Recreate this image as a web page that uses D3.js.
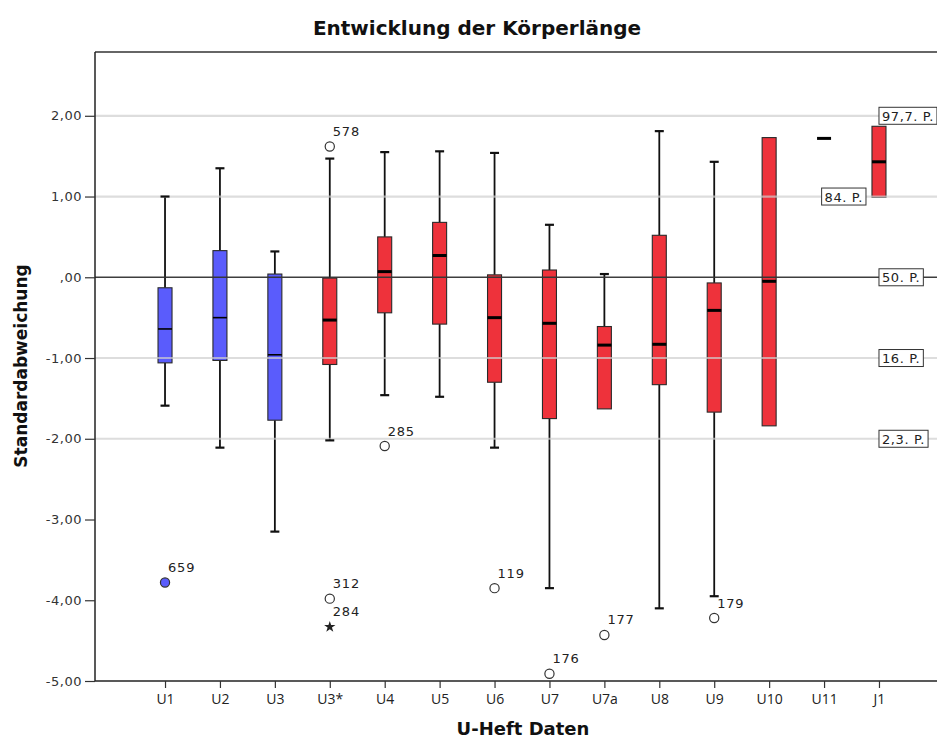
<!DOCTYPE html>
<html>
<head>
<meta charset="utf-8">
<script src="https://cdn.jsdelivr.net/npm/d3@7"></script>
<style>
  html, body { margin: 0; padding: 0; background: #fff; }
  svg { display: block; }
</style>
</head>
<body>
<svg id="chart" width="937" height="740"></svg>
<script>
// Körperlänge (SDS) per U-Untersuchung: Boxplot-Kennwerte
const categories  = ["U1", "U2", "U3", "U3*", "U4", "U5", "U6", "U7", "U7a", "U8", "U9", "U10", "U11", "J1"];
const whiskerHigh = [1.00, 1.35, 0.32, 1.47, 1.55, 1.56, 1.54, 0.65, 0.04, 1.81, 1.43, 1.73, 1.72, 1.87];
const q3          = [-0.13, 0.33, 0.04, -0.01, 0.50, 0.68, 0.03, 0.09, -0.61, 0.52, -0.07, 1.73, 1.72, 1.87];
const medians     = [-0.64, -0.50, -0.96, -0.53, 0.07, 0.27, -0.50, -0.57, -0.84, -0.83, -0.41, -0.05, 1.72, 1.43];
const q1          = [-1.06, -1.03, -1.77, -1.08, -0.44, -0.58, -1.30, -1.75, -1.63, -1.33, -1.67, -1.84, 1.72, 0.99];
const whiskerLow  = [-1.59, -2.11, -3.15, -2.02, -1.46, -1.48, -2.11, -3.85, -1.63, -4.10, -3.95, -1.84, 1.72, 0.99];
const groups      = ["A", "A", "A", "B", "B", "B", "B", "B", "B", "B", "B", "B", "B", "B"];

// Ausreißer (o) und Extremwerte (*) mit Fallnummer
const outlierCats   = ["U1", "U3*", "U3*", "U3*", "U4", "U6", "U7", "U7a", "U9"];
const outlierValues = [-3.78, 1.62, -3.98, -4.33, -2.09, -3.85, -4.91, -4.43, -4.22];
const outlierIds    = ["659", "578", "312", "284", "285", "119", "176", "177", "179"];
const outlierKinds  = ["fill", "o", "o", "*", "o", "o", "o", "o", "o"];

// Perzentil-Referenzlinien
const refValues = [2, 1, 0, -1, -2];
const refLabels = ["97,7. P.", "84. P.", "50. P.", "16. P.", "2,3. P."];

const yTicks = [2, 1, 0, -1, -2, -3, -4, -5];

const W = 937, H = 740;
const plotLeft = 95, plotTop = 52, plotBottom = 681, plotRight = 949;

const svg = d3.select("#chart");

const x = d3.scalePoint().domain(categories).range([plotLeft, plotRight]).padding(1.275);
const y = d3.scaleLinear().domain([-5, 2.79]).range([plotBottom, plotTop]);

const colors = { A: "#5a5cfc", B: "#ee323b" };
const boxW = 14, capW = 9;
const titleFont = "'DejaVu Sans', sans-serif";

const fmt = v => {
  const s = d3.format(".2f")(Math.abs(v)).replace(".", ",");
  const t = v === 0 ? s.replace(/^0/, "") : s;
  return (v < 0 ? "-" : "") + t;
};

// Titel
svg.append("text")
  .attr("x", 477).attr("y", 35)
  .attr("text-anchor", "middle")
  .attr("font-family", titleFont)
  .attr("font-weight", 700)
  .attr("font-size", 20)
  .attr("fill", "#111")
  .text("Entwicklung der Körperlänge");

// Achsentitel
svg.append("text")
  .attr("x", 523).attr("y", 735)
  .attr("text-anchor", "middle")
  .attr("font-family", titleFont)
  .attr("font-weight", 700)
  .attr("font-size", 18)
  .attr("fill", "#111")
  .text("U-Heft Daten");

svg.append("text")
  .attr("transform", "translate(27,366) rotate(-90)")
  .attr("text-anchor", "middle")
  .attr("font-family", titleFont)
  .attr("font-weight", 700)
  .attr("font-size", 17)
  .attr("fill", "#111")
  .text("Standardabweichung");

const stats = categories.map((c, i) => ({
  c, lo: whiskerLow[i], q1: q1[i], med: medians[i], q3: q3[i], hi: whiskerHigh[i], g: groups[i]
}));

// Ebenen: Boxen, Referenzlinien, Whisker-Enden, Ausreißer
const boxLayer = svg.append("g");
const refLayer = svg.append("g");
const capLayer = svg.append("g");
const outLayer = svg.append("g");

const boxes = boxLayer.selectAll("g.box")
  .data(stats)
  .join("g").attr("class", "box")
  .attr("transform", d => `translate(${x(d.c)},0)`);

// Whisker-Linien
boxes.filter(d => d.hi > d.q3).append("line")
  .attr("x1", 0).attr("x2", 0)
  .attr("y1", d => y(d.hi)).attr("y2", d => y(d.q3))
  .attr("stroke", "#111").attr("stroke-width", 1.8);
boxes.filter(d => d.lo < d.q1).append("line")
  .attr("x1", 0).attr("x2", 0)
  .attr("y1", d => y(d.q1)).attr("y2", d => y(d.lo))
  .attr("stroke", "#111").attr("stroke-width", 1.8);

// Boxen
boxes.filter(d => d.q3 > d.q1).append("rect")
  .attr("x", -boxW / 2).attr("width", boxW)
  .attr("y", d => y(d.q3)).attr("height", d => y(d.q1) - y(d.q3))
  .attr("fill", d => colors[d.g])
  .attr("stroke", "#2a2a2a").attr("stroke-width", 1.1);

// Median
boxes.append("line")
  .attr("x1", -boxW / 2).attr("x2", boxW / 2)
  .attr("y1", d => y(d.med)).attr("y2", d => y(d.med))
  .attr("stroke", "#000")
  .attr("stroke-width", d => d.g === "A" ? 1.6 : 3);

// Referenzlinien über den Boxen
refLayer.selectAll("line")
  .data(refValues)
  .join("line")
  .attr("x1", plotLeft).attr("x2", W)
  .attr("y1", d => y(d)).attr("y2", d => y(d))
  .attr("stroke", d => d === 0 ? "#333" : "#cfcfcf")
  .attr("stroke-opacity", d => d === 0 ? 0.95 : 0.7)
  .attr("stroke-width", d => d === 0 ? 1.5 : 2.2);

// Whisker-Enden
capLayer.selectAll("line.hi")
  .data(stats.filter(d => d.hi > d.q3))
  .join("line").attr("class", "hi")
  .attr("x1", d => x(d.c) - capW / 2).attr("x2", d => x(d.c) + capW / 2)
  .attr("y1", d => y(d.hi)).attr("y2", d => y(d.hi))
  .attr("stroke", "#111").attr("stroke-width", 2.2);
capLayer.selectAll("line.lo")
  .data(stats.filter(d => d.lo < d.q1))
  .join("line").attr("class", "lo")
  .attr("x1", d => x(d.c) - capW / 2).attr("x2", d => x(d.c) + capW / 2)
  .attr("y1", d => y(d.lo)).attr("y2", d => y(d.lo))
  .attr("stroke", "#111").attr("stroke-width", 2.2);

// Ausreißer
const outliers = outlierCats.map((c, i) => ({ c, v: outlierValues[i], id: outlierIds[i], k: outlierKinds[i] }));
const og = outLayer.selectAll("g").data(outliers).join("g")
  .attr("transform", d => `translate(${x(d.c)},${y(d.v)})`);
og.filter(d => d.k !== "*").append("circle")
  .attr("r", 4.6)
  .attr("fill", d => d.k === "fill" ? colors.A : "#fff")
  .attr("stroke", "#333").attr("stroke-width", 1.2);
og.filter(d => d.k === "*").append("path")
  .attr("d", d3.symbol(d3.symbolStar, 40))
  .attr("fill", "#222");
og.append("text")
  .attr("x", 3).attr("y", -10.5)
  .attr("font-family", "'DejaVu Sans', sans-serif")
  .attr("font-size", 13)
  .attr("letter-spacing", 0.8)
  .attr("fill", "#222")
  .text(d => d.id);

// Perzentil-Beschriftungen
const lastIdx = categories.length - 1;
const lastCat = categories[lastIdx];
const lg = svg.append("g");
refValues.forEach((v, i) => {
  const g = lg.append("g");
  const t = g.append("text")
    .attr("font-family", "'DejaVu Sans', sans-serif")
    .attr("font-size", 13)
    .attr("letter-spacing", 0.6)
    .attr("fill", "#222")
    .attr("dominant-baseline", "central")
    .text(refLabels[i]);
  const tw = t.node().getComputedTextLength() + 6;
  const covered = v >= q1[lastIdx] && v <= q3[lastIdx];
  const bx = covered ? x(lastCat) - boxW / 2 - 6 - tw : x(lastCat);
  g.insert("rect", "text")
    .attr("x", bx).attr("y", y(v) - 8.5)
    .attr("width", tw).attr("height", 17)
    .attr("fill", "#fff").attr("stroke", "#333").attr("stroke-width", 1);
  t.attr("x", bx + 3).attr("y", y(v) + 0.5);
});

// Rahmen und Achsen
svg.append("line").attr("x1", plotLeft).attr("x2", W).attr("y1", plotTop).attr("y2", plotTop)
  .attr("stroke", "#333").attr("stroke-width", 1.5);

const yAxis = svg.append("g")
  .attr("transform", `translate(${plotLeft},0)`)
  .call(d3.axisLeft(y).tickValues(yTicks).tickFormat(fmt).tickSize(10).tickPadding(3));
yAxis.select(".domain").attr("d", `M0,${plotTop}V${plotBottom}`).attr("stroke", "#222").attr("stroke-width", 1.5);
yAxis.selectAll(".tick line").attr("stroke", "#333").attr("stroke-width", 1.2);
yAxis.selectAll(".tick text")
  .attr("font-family", "'DejaVu Sans', sans-serif")
  .attr("font-size", 13)
  .attr("letter-spacing", 0.5)
  .attr("fill", "#333");

const xAxis = svg.append("g")
  .attr("transform", `translate(0,${plotBottom})`)
  .call(d3.axisBottom(x).tickSize(7).tickPadding(6));
xAxis.select(".domain").attr("d", `M${plotLeft},0H${W}`).attr("stroke", "#222").attr("stroke-width", 1.5);
xAxis.selectAll(".tick line").attr("stroke", "#333").attr("stroke-width", 1.2);
xAxis.selectAll(".tick text")
  .attr("font-family", "'Liberation Sans Narrow', 'Open Sans', sans-serif")
  .attr("font-size", 14)
  .attr("fill", "#222");
</script>
</body>
</html>
